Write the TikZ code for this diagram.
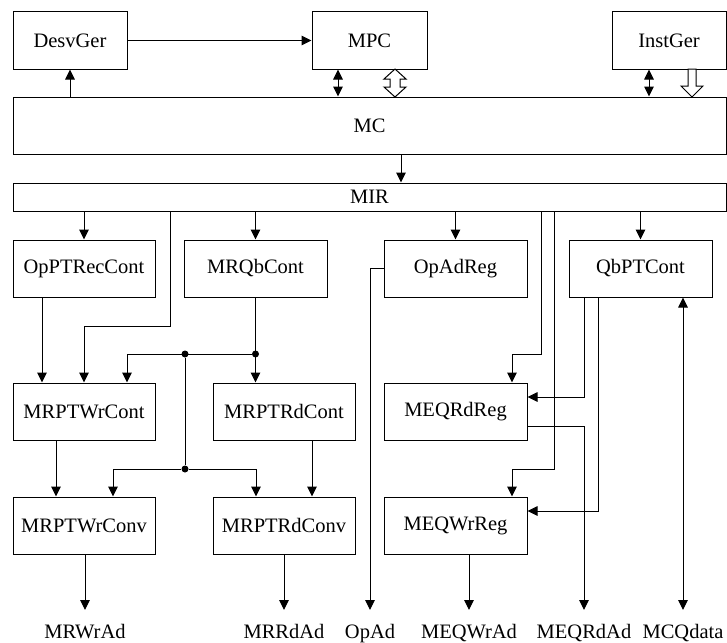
\documentclass[tikz,border=0pt]{standalone}
\usepackage{fontspec}
\setmainfont{Liberation Serif}
\usetikzlibrary{arrows.meta}

\begin{document}
\begin{tikzpicture}[x=1pt,y=-1pt,
  blk/.style={draw,line width=1pt,minimum width=143pt,minimum height=57pt,inner sep=0pt,font=\fontsize{20.5}{23}\selectfont},
  wide/.style={blk,minimum width=713pt},
  sig/.style={font=\fontsize{20.5}{23}\selectfont,inner xsep=0pt,inner ysep=14pt,anchor=north},
  wire/.style={line width=1pt},
  arr/.style={wire,-{Triangle[length=10pt,width=9.5pt]}},
  barr/.style={wire,{Triangle[length=10pt,width=9.5pt]}-{Triangle[length=10pt,width=9.5pt]}},
  jdot/.style={circle,fill,inner sep=0pt,minimum size=7pt}]
		%%%%% START %%%%%
		\useasboundingbox (0,0) rectangle (727,642);
		
		\node[blk,minimum width=114pt] (desv) at (70,40.5) {DesvGer};
		\node[blk,minimum width=115pt] (mpc) at (369.5,40.5) {MPC};
		\node[blk,minimum width=114pt] (inst) at (669,40.5) {InstGer};
		\node[wide] (mc) at (369.5,125.5) {MC};
		\node[wide,minimum height=28pt] (mir) at (369.5,197) {MIR};
		
		\node[blk,minimum width=142pt] (oprec) at (84,268.5) {OpPTRecCont};
		\node[blk] (mrqb) at (255.5,268.5) {MRQbCont};
		\node[blk] (opad) at (455.5,268.5) {OpAdReg};
		\node[blk] (qbpt) at (640.5,268.5) {QbPTCont};
		
		\node[blk,minimum width=142pt] (wrcont) at (84,411.5) {MRPTWrCont};
		\node[blk,minimum width=142pt] (rdcont) at (284,411.5) {MRPTRdCont};
		\node[blk] (eqrd) at (455.5,411.5) {MEQRdReg};
		
		\node[blk,minimum width=142pt] (wrconv) at (84,525.5) {MRPTWrConv};
		\node[blk,minimum width=142pt] (rdconv) at (284,525.5) {MRPTRdConv};
		\node[blk] (eqwr) at (455.5,525.5) {MEQWrReg};
		
		\node[sig] (swrad) at (85,610) {MRWrAd};
		\node[sig] (srdad) at (284,610) {MRRdAd};
		\node[sig] (sopad) at (370,610) {OpAd};
		\node[sig] (seqwr) at (469,610) {MEQWrAd};
		\node[sig] (seqrd) at (584,610) {MEQRdAd};
		\node[sig] (sqdata) at (683,610) {MCQdata};
		
		\node[jdot] (ja) at (185,354) {};
		\node[jdot] (jb) at (255.5,354) {};
		\node[jdot] (jc) at (185,469) {};
		
		% top row
		\draw[arr] (desv) -- (mpc);
		\draw[arr] (desv.south |- mc.north) -- (desv.south);
		\draw[barr] (338,0 |- mpc.south) -- (338,0 |- mc.north);
		\draw[barr] (649,0 |- inst.south) -- (649,0 |- mc.north);
		\draw[wire,fill=white] (395,69) -- (406,79) -- (400,79) -- (400,87) -- (406,87) -- (395,97) -- (384,87) -- (390,87) -- (390,79) -- (384,79) -- cycle;
		\draw[wire,fill=white] (688,69) -- (696,69) -- (696,86) -- (703,86) -- (692,97) -- (681,86) -- (688,86) -- cycle;
		\draw[arr] (401,0 |- mc.south) -- (401,0 |- mir.north);
		
		% from MIR
		\draw[arr] (oprec.north |- mir.south) -- (oprec.north);
		\draw[arr] (mrqb.north |- mir.south) -- (mrqb.north);
		\draw[arr] (opad.north |- mir.south) -- (opad.north);
		\draw[arr] (qbpt.north |- mir.south) -- (qbpt.north);
		\draw[arr] (170,0 |- mir.south) |- (84,326) -- (wrcont.north);
		\draw[arr] (541,0 |- mir.south) |- (512,354) -- (512,0 |- eqrd.north);
		\draw[arr] (554,0 |- mir.south) |- (512,469) -- (512,0 |- eqwr.north);
		
		% left half
		\draw[arr] (42,0 |- oprec.south) -- (42,0 |- wrcont.north);
		\draw[arr] (mrqb.south) -- (mrqb.south |- rdcont.north);
		\draw[arr] (jb) -| (127,0 |- wrcont.north);
		\draw[wire] (ja) -- (jc);
		\draw[arr] (jc) -| (113,0 |- wrconv.north);
		\draw[arr] (jc) -| (256,0 |- rdconv.north);
		\draw[arr] (56,0 |- wrcont.south) -- (56,0 |- wrconv.north);
		\draw[arr] (312,0 |- rdcont.south) -- (312,0 |- rdconv.north);
		\draw[arr] (swrad.north |- wrconv.south) -- (swrad.north);
		\draw[arr] (srdad.north |- rdconv.south) -- (srdad.north);
		
		% right half
		\draw[arr] (opad.west) -| (sopad.north);
		\draw[arr] (584,0 |- qbpt.south) |- (eqrd.east |- 0,397);
		\draw[arr] (598,0 |- qbpt.south) |- (eqwr.east |- 0,511);
		\draw[arr] (eqrd.east |- 0,426) -| (seqrd.north);
		\draw[arr] (seqwr.north |- eqwr.south) -- (seqwr.north);
		\draw[barr] (sqdata.north |- qbpt.south) -- (sqdata.north);
		
		%%%%% END %%%%%
\end{tikzpicture}
\end{document}
